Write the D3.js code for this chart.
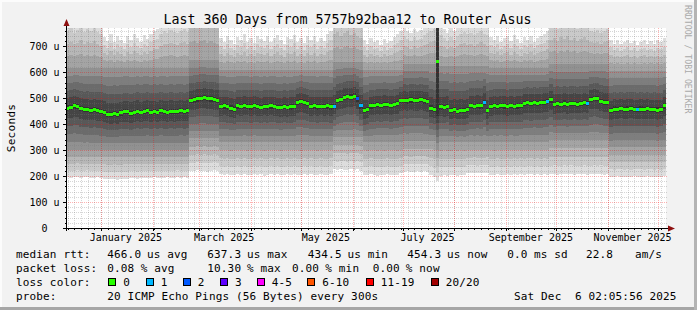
<!DOCTYPE html>
<html>
<head>
<meta charset="utf-8">
<script src="https://cdn.jsdelivr.net/npm/d3@7"></script>
<style>
  body { margin: 0; background: #f2f2f2; }
  svg { display: block; }
  text { font-family: "DejaVu Sans Mono", monospace; fill: #000; }
</style>
</head>
<body>
<svg id="chart" width="697" height="310"></svg>
<script>
// ---- data ----
const titleText = "Last 360 Days from 5757b92baa12 to Router Asus";
const startTime = Date.UTC(2024, 11, 11, 2, 5, 56);
const endTime = Date.UTC(2025, 11, 6, 2, 5, 56);
const stepDays = 2;

// median rtt per 2-day step, in microseconds
const medianUs = [
  462, 465, 470, 468, 460, 455, 457, 453, 455, 452,
  450, 446, 438, 437, 440, 437, 443, 447, 447, 441,
  446, 450, 444, 449, 452, 446, 449, 445, 451, 448,
  446, 450, 447, 449, 452, 448, 451, 490, 493, 497,
  500, 501, 498, 497, 494, 492, 468, 470, 466, 462,
  458, 470, 468, 472, 469, 466, 471, 467, 465, 469,
  466, 470, 467, 465, 463, 467, 464, 466, 468, 483,
  486, 482, 478, 468, 470, 466, 469, 467, 470, 466,
  469, 490, 494, 502, 506, 504, 508, 497, 470, 452,
  455, 470, 472, 475, 473, 476, 474, 472, 475, 478,
  490, 492, 489, 493, 491, 490, 494, 489, 486, 462,
  455, 640, 466, 464, 467, 452, 455, 450, 453, 451,
  456, 471, 469, 473, 470, 483, 452, 468, 471, 469,
  472, 470, 467, 471, 469, 470, 472, 480, 482, 479,
  483, 480, 482, 484, 487, 493, 476, 479, 477, 481,
  476, 478, 480, 477, 479, 482, 478, 496, 500, 498,
  487, 484, 482, 452, 458, 456, 460, 455, 458, 461,
  457, 455, 458, 456, 459, 455, 457, 454, 456, 470
];

// fastest ping (rank 1 of 20) per step, microseconds
const lowUs = [
  196, 194, 195, 197, 193, 195, 196, 194, 192, 195, 194, 190, 188, 187, 189, 186, 188, 190, 189, 191,
  193, 190, 192, 194, 191, 193, 195, 192, 194, 193, 195, 192, 194, 196, 193, 195, 194,
  220, 218, 222, 219, 221, 217, 220, 223, 219,
  206, 204, 207, 203, 205, 208, 204, 206, 203, 205, 207, 204, 206, 202, 205, 207, 204, 206, 203, 205,
  208, 204, 206, 205, 203, 206, 204, 207, 205, 203, 206, 204, 205, 207,
  226, 224, 228, 225, 223, 227, 224, 226, 220,
  205, 203, 206, 204, 202, 205, 203, 206, 204, 205, 203, 210,
  216, 218, 215, 217, 219, 216, 218, 215, 205, 198,
  180,
  202, 204, 201, 203, 205, 202, 204, 203, 212, 211, 213, 210, 212, 211, 213,
  205, 203, 206, 204, 205, 207, 204, 206, 205, 207, 205, 208, 206, 204, 207, 205, 206, 204,
  206, 208, 205, 207, 209, 206, 208, 205, 207, 206, 208, 205, 207, 209, 206, 208, 205, 207,
  198, 196, 199, 197, 195, 198, 196, 199, 197, 198, 196, 199, 197, 195, 198, 196, 199
];

// slowest ping (rank 20 of 20) per step, microseconds
const highUs = [
  805, 820, 798, 812, 830, 802, 815, 808, 825, 800, 790,
  735, 720, 745, 715, 740, 725, 712, 738, 722, 745, 730, 718, 742, 728, 748, 760, 765,
  790, 805, 798, 812, 800, 795, 808, 815, 802,
  930, 950, 910, 940, 960, 920, 945, 915, 900,
  730, 715, 740, 722, 708, 735, 725, 745, 718, 732, 712, 740, 728, 720, 738, 715, 730, 742, 722, 710,
  735, 726, 744, 718, 730, 712, 738, 724, 740, 716, 732, 720, 745, 760,
  850, 870, 840, 860, 880, 845, 865, 840, 820,
  725, 708, 730, 715, 722, 705, 728, 712, 720, 735, 745, 760,
  775, 760, 752, 768, 755, 762, 780, 790, 800, 810,
  6000,
  780, 765, 752, 770, 758, 775, 790, 800, 785, 795, 780, 792, 805, 788, 780,
  735, 722, 740, 715, 730, 738, 720, 742, 728, 712, 735, 725, 740, 718, 732, 738, 745, 760,
  820, 835, 810, 840, 825, 845, 815, 830, 812, 828, 842, 818, 800, 795, 805, 790, 800, 810,
  725, 710, 722, 708, 718, 725, 712, 720, 705, 716, 724, 710, 719, 708, 722, 715, 730
];

// smoke shape per period: step where it starts, ping 5 and ping 16 values,
// and how far pings 10 / 11 sit from the median (all microseconds)
const periodStart = [0, 37, 46, 80, 89, 101, 111, 112, 127, 145, 163];
const periodPing5 = [300, 345, 330, 350, 330, 335, 300, 330, 330, 340, 310];
const periodPing16 = [615, 645, 610, 640, 610, 630, 2000, 625, 615, 630, 605];
const periodInnerGap = [10, 10, 10, 10, 10, 10, 210, 10, 10, 10, 10];

// steps with packet loss (pings lost out of 20)
const lossStep = [80, 87, 88, 125, 144, 156, 171];
const lossCount = [1, 2, 1, 1, 1, 1, 1];

const yTickValues = [0, 100, 200, 300, 400, 500, 600, 700];
const xLabels = ["January 2025", "March 2025", "May 2025", "July 2025", "September 2025", "November 2025"];
const xLabelMonths = [0, 2, 4, 6, 8, 10];

const rttTexts = ["466.0", "us avg", "637.3", "us max", "434.5", "us min", "454.3", "us now", "0.0", "ms sd", "22.8", "am/s"];
const lossTexts = ["0.08", "% avg", "10.30", "% max", "0.00", "% min", "0.00", "% now"];
const lossNames = ["0", "1", "2", "3", "4-5", "6-10", "11-19", "20/20"];
const lossColors = ["#26ff00", "#00b8ff", "#0059ff", "#5e00ff", "#ff00fe", "#ff5500", "#ff0000", "#a10000"];
const probeText = "20 ICMP Echo Pings (56 Bytes) every 300s";
const dateText = "Sat Dec  6 02:05:56 2025";

// ---- layout ----
const W = 697, H = 310;
const LEFT = 66, RIGHT = 666, TOP = 28, BOTTOM = 228;
const RTT_X = [107.3, 147, 207.3, 247, 307.8, 347.5, 407.3, 447, 507.3, 534, 586, 635];
const LOSS_X = [107.3, 140.7, 207.3, 247, 292, 325.3, 372.7, 405.8];
const BOX_X = [108.3, 145.7, 182.7, 220, 256.7, 307.3, 365.7, 430.7];
const ROW_Y = [257.5, 271.8, 286, 300.2];

// keep runs of spaces in svg text
const keepSpaces = s => s.replace(/ /g, "\u00a0");

const svg = d3.select("#chart");

const x = d3.scaleUtc().domain([new Date(startTime), new Date(endTime)]).range([LEFT, RIGHT]);
const y = d3.scaleLinear().domain([0, 770]).range([BOTTOM, TOP]);

// frame
svg.append("rect").attr("width", W).attr("height", H).attr("fill", "#f2f2f2");
svg.append("rect").attr("x", 0).attr("y", 0).attr("width", W).attr("height", 2).attr("fill", "#fcfcfc");
svg.append("rect").attr("x", 0).attr("y", 0).attr("width", 2).attr("height", H).attr("fill", "#fcfcfc");
svg.append("rect").attr("x", 0).attr("y", H - 3).attr("width", W).attr("height", 3).attr("fill", "#a6a6a6");
svg.append("rect").attr("x", W - 3).attr("y", 0).attr("width", 3).attr("height", H).attr("fill", "#b4b4b4");

// canvas
svg.append("rect")
  .attr("x", LEFT).attr("y", TOP)
  .attr("width", RIGHT - LEFT).attr("height", BOTTOM - TOP)
  .attr("fill", "#ffffff");

svg.append("clipPath").attr("id", "plotclip")
  .append("rect")
  .attr("x", LEFT).attr("y", TOP)
  .attr("width", RIGHT - LEFT).attr("height", BOTTOM - TOP);

// build the 20 sorted pings of every step
const steps = medianUs.map((m, i) => {
  let r = periodStart.length - 1;
  while (periodStart[r] > i) r--;
  const rank = d3.scaleLinear()
    .domain([1, 5, 10, 11, 16, 20])
    .range([lowUs[i], periodPing5[r], m - periodInnerGap[r], m + periodInnerGap[r], periodPing16[r], highUs[i]]);
  const li = lossStep.indexOf(i);
  return {
    date: d3.utcDay.offset(new Date(startTime), i * stepDays),
    end: d3.utcDay.offset(new Date(startTime), (i + 1) * stepDays),
    median: m,
    ping: d3.range(0, 21).map(k => rank(k)),
    loss: li < 0 ? 0 : lossCount[li]
  };
});
const smokeData = steps.concat([Object.assign({}, steps[steps.length - 1], {date: new Date(endTime)})]);

// smoke: ranks k..21-k, lighter outside, darker towards the median
const smoke = svg.append("g").attr("clip-path", "url(#plotclip)");
for (let k = 1; k <= 10; k++) {
  const g = Math.floor(190 / 10 * (10 - k)) + 50;
  const area = d3.area()
    .curve(d3.curveStepAfter)
    .x(d => x(d.date))
    .y0(d => y(d.ping[k]))
    .y1(d => y(d.ping[21 - k]));
  smoke.append("path")
    .datum(smokeData)
    .attr("d", area)
    .attr("fill", d3.rgb(g, g, g))
    .attr("shape-rendering", "crispEdges");
}

// grid (drawn over the smoke, like rrdtool)
const minorColor = "rgba(120,120,120,0.3)";
const majorColor = "rgba(255,0,0,0.3)";
const grid = svg.append("g").attr("stroke-width", 1).attr("stroke-dasharray", "1,1");
const minorY = d3.range(20, 770, 20).filter(v => v % 100 !== 0);
grid.selectAll(".hminor").data(minorY).join("line")
  .attr("x1", LEFT).attr("x2", RIGHT + 2)
  .attr("y1", d => Math.round(y(d)) + 0.5).attr("y2", d => Math.round(y(d)) + 0.5)
  .attr("stroke", minorColor);

const jan1 = new Date(Date.UTC(2025, 0, 1));
const minorX = d3.range(-6, 90).map(k => d3.utcDay.offset(jan1, 4 * k))
  .filter(d => d > x.domain()[0] && d < x.domain()[1]);
grid.selectAll(".vminor").data(minorX).join("line")
  .attr("x1", d => Math.round(x(d)) + 0.5).attr("x2", d => Math.round(x(d)) + 0.5)
  .attr("y1", TOP).attr("y2", BOTTOM)
  .attr("stroke", minorColor);

grid.selectAll(".hmajor").data(yTickValues.filter(v => v > 0)).join("line")
  .attr("x1", LEFT).attr("x2", RIGHT + 2)
  .attr("y1", d => Math.round(y(d)) + 0.5).attr("y2", d => Math.round(y(d)) + 0.5)
  .attr("stroke", majorColor);

const monthStarts = d3.utcMonth.range(x.domain()[0], x.domain()[1]);
grid.selectAll(".vmajor").data(monthStarts).join("line")
  .attr("x1", d => Math.round(x(d)) + 0.5).attr("x2", d => Math.round(x(d)) + 0.5)
  .attr("y1", TOP).attr("y2", BOTTOM)
  .attr("stroke", majorColor);

// median rtt, coloured by loss
svg.append("g").selectAll("rect").data(steps).join("rect")
  .attr("x", d => x(d.date))
  .attr("width", d => x(d.end) - x(d.date))
  .attr("y", d => y(d.median) - 1.5)
  .attr("height", 3)
  .attr("shape-rendering", "crispEdges")
  .attr("fill", d => {
    const c = d.loss;
    const b = c === 0 ? 0 : c <= 3 ? c : c <= 5 ? 4 : c <= 10 ? 5 : c < 20 ? 6 : 7;
    return lossColors[b];
  });

// axes
const axis = svg.append("g").attr("stroke", "#000").attr("shape-rendering", "crispEdges");
axis.append("line").attr("x1", LEFT - 3).attr("x2", 670).attr("y1", BOTTOM + 0.5).attr("y2", BOTTOM + 0.5);
axis.append("line").attr("x1", LEFT + 0.5).attr("x2", LEFT + 0.5).attr("y1", BOTTOM + 3).attr("y2", 24);
axis.selectAll(".ytick").data(yTickValues).join("line")
  .attr("x1", LEFT - 3).attr("x2", LEFT)
  .attr("y1", d => Math.round(y(d)) + 0.5).attr("y2", d => Math.round(y(d)) + 0.5);
axis.selectAll(".yminor").data(minorY).join("line")
  .attr("x1", LEFT - 1).attr("x2", LEFT)
  .attr("y1", d => Math.round(y(d)) + 0.5).attr("y2", d => Math.round(y(d)) + 0.5);
axis.selectAll(".xtick").data(monthStarts).join("line")
  .attr("x1", d => Math.round(x(d)) + 0.5).attr("x2", d => Math.round(x(d)) + 0.5)
  .attr("y1", BOTTOM).attr("y2", BOTTOM + 3);
axis.selectAll(".xminor").data(minorX).join("line")
  .attr("x1", d => Math.round(x(d)) + 0.5).attr("x2", d => Math.round(x(d)) + 0.5)
  .attr("y1", BOTTOM).attr("y2", BOTTOM + 2);

svg.append("path").attr("d", `M${LEFT + 0.5},19 L${LEFT - 2.5},26 L${LEFT + 3.5},26 Z`).attr("fill", "#8e1010");
svg.append("path").attr("d", `M675,${BOTTOM + 0.5} L668,${BOTTOM - 2.5} L668,${BOTTOM + 3.5} Z`).attr("fill", "#8e1010");

// tick labels
svg.append("g").selectAll("text").data(yTickValues).join("text")
  .attr("x", 59.5)
  .attr("y", d => y(d) + 3.6)
  .attr("text-anchor", "end")
  .attr("font-size", 10)
  .text(d => d === 0 ? "0\u00a0\u00a0" : keepSpaces(d + " u"));

svg.append("g").selectAll("text").data(xLabels).join("text")
  .attr("x", (d, i) => x(d3.utcDay.offset(new Date(Date.UTC(2025, xLabelMonths[i], 1)), 15)))
  .attr("y", 241)
  .attr("text-anchor", "middle")
  .attr("font-size", 10)
  .text(d => d);

// titles
svg.append("text").attr("x", 347.5).attr("y", 24).attr("text-anchor", "middle")
  .attr("font-size", 13.3).text(titleText);
svg.append("text").attr("transform", "translate(15,128) rotate(-90)")
  .attr("text-anchor", "middle").attr("font-size", 11).attr("letter-spacing", 0.3).text("Seconds");
svg.append("text").attr("transform", "translate(684.5,5) rotate(90)")
  .attr("font-size", 8.2).style("fill", "#a9a9a9").text("RRDTOOL / TOBI OETIKER");

// legend
const legend = svg.append("g").attr("font-size", 11).attr("letter-spacing", 0.15);
["median rtt:", "packet loss:", "loss color:", "probe:"].forEach((t, i) => {
  legend.append("text").attr("x", 16).attr("y", ROW_Y[i]).text(keepSpaces(t));
});
rttTexts.forEach((t, i) => legend.append("text").attr("x", RTT_X[i]).attr("y", ROW_Y[0]).text(keepSpaces(t)));
lossTexts.forEach((t, i) => legend.append("text").attr("x", LOSS_X[i]).attr("y", ROW_Y[1]).text(keepSpaces(t)));
lossNames.forEach((t, i) => {
  legend.append("rect")
    .attr("x", Math.round(BOX_X[i]) + 0.5).attr("y", 278.5)
    .attr("width", 7).attr("height", 7)
    .attr("fill", lossColors[i]).attr("stroke", "#000");
  legend.append("text").attr("x", BOX_X[i] + 15).attr("y", ROW_Y[2]).text(t);
});
legend.append("text").attr("x", 107.3).attr("y", ROW_Y[3]).text(keepSpaces(probeText));
legend.append("text").attr("x", 514).attr("y", ROW_Y[3]).text(keepSpaces(dateText));
</script>
</body>
</html>
